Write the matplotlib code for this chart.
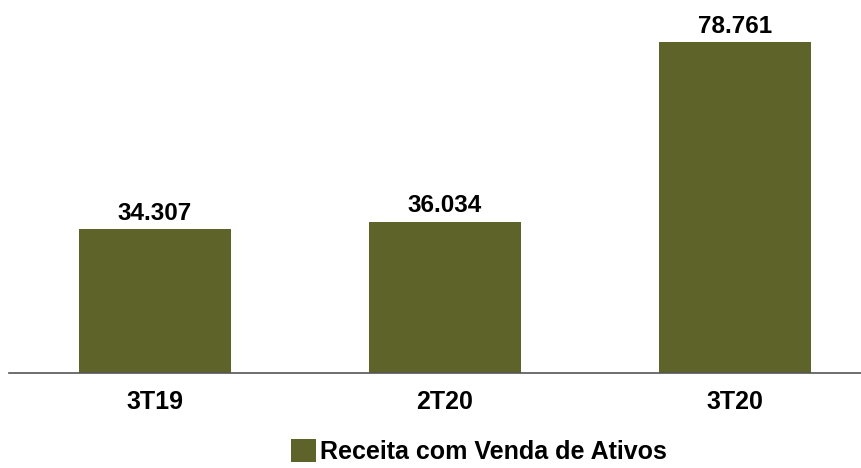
import matplotlib.pyplot as plt

plt.rcParams['font.family'] = ['Liberation Sans', 'DejaVu Sans']

categories = ['3T19', '2T20', '3T20']
values = [34.307, 36.034, 78.761]
value_labels = ['34.307', '36.034', '78.761']
series_name = 'Receita com Venda de Ativos'

bar_color = '#5E6329'

fig = plt.figure(figsize=(8.62, 4.68), dpi=100)
ax = fig.add_axes([0.0, (468 - 373) / 468, 1.0, 373 / 468])

x = range(len(categories))
bars = ax.bar(x, values, width=0.524, color=bar_color, label=series_name, zorder=2)

for xi, v, lab in zip(x, values, value_labels):
    ax.annotate(lab, (xi, v), xytext=(0, 3), textcoords='offset points',
                ha='center', va='bottom', fontsize=17.5, fontweight='bold')

x_left, x_right = -155 / 290, 707 / 290
ax.set_xlim(x_left, x_right)
ax.set_ylim(0, 373 / 4.2)

for s in ['top', 'right', 'left']:
    ax.spines[s].set_visible(False)
ax.spines['bottom'].set_color('#555555')
ax.spines['bottom'].set_linewidth(1.2)
ax.spines['bottom'].set_bounds(x_left + 9 / 290, x_right)
ax.set_yticks([])
ax.set_xticks(list(x))
ax.set_xticklabels(categories, fontsize=18, fontweight='bold')
ax.tick_params(axis='x', length=0, pad=12)

fig.legend(handles=[bars], labels=[series_name], loc='lower center',
           bbox_to_anchor=(0.556, -0.04), frameon=False,
           prop={'size': 18, 'weight': 'bold'},
           handlelength=1.0, handleheight=1.0, handletextpad=0.15)

fig.savefig('out.png', dpi=100)
